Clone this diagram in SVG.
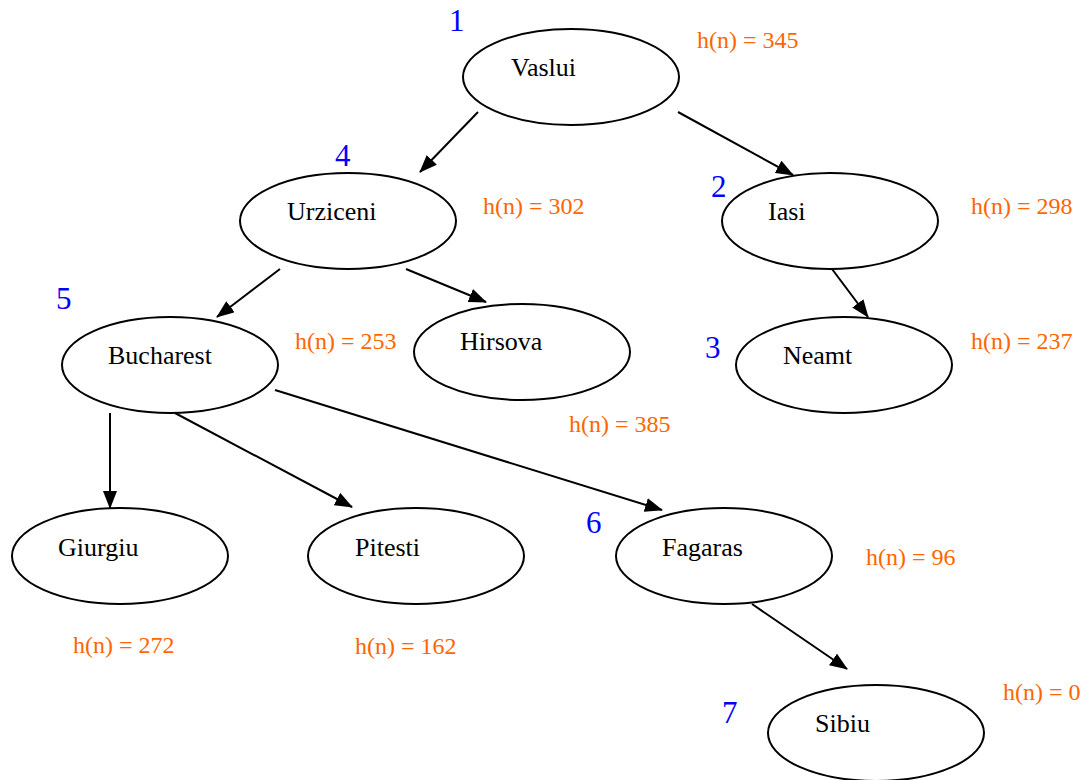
<svg xmlns="http://www.w3.org/2000/svg" width="1085" height="780" viewBox="0 0 1085 780">
<style>
.node ellipse{fill:#fff;stroke:#000;stroke-width:2}
.name{font-family:"Liberation Serif",serif;font-size:26px;fill:#000}
.h{font-family:"Liberation Serif",serif;font-size:24px;fill:#FF6600}
.n{font-family:"Liberation Serif",serif;font-size:31px;fill:#0000FF}
#edges line{stroke:#000;stroke-width:2;marker-end:url(#arr)}
</style>
<defs>
<marker id="arr" markerUnits="userSpaceOnUse" markerWidth="18" markerHeight="14" refX="17" refY="7" orient="auto">
<path d="M0,0 L18,7 L0,14 Z" fill="#000"/>
</marker>
</defs>
<rect width="1085" height="780" fill="#fff"/>
<g id="edges">
<line x1="478" y1="112" x2="420" y2="172"/>
<line x1="678" y1="112" x2="793" y2="175"/>
<line x1="280" y1="269" x2="217" y2="317"/>
<line x1="406" y1="269" x2="486" y2="302"/>
<line x1="832" y1="269" x2="868" y2="317"/>
<line x1="110" y1="413" x2="110" y2="508"/>
<line x1="175" y1="413" x2="352" y2="507"/>
<line x1="275" y1="390" x2="662" y2="510"/>
<line x1="752" y1="604" x2="847" y2="669"/>
</g>
<g id="vaslui" class="node"><ellipse cx="571" cy="77" rx="108" ry="48"/><text class="name" x="511" y="76">Vaslui</text></g>
<g id="urziceni" class="node"><ellipse cx="348" cy="221" rx="108" ry="48"/><text class="name" x="287" y="220">Urziceni</text></g>
<g id="iasi" class="node"><ellipse cx="830" cy="221" rx="108" ry="48"/><text class="name" x="768" y="220">Iasi</text></g>
<g id="bucharest" class="node"><ellipse cx="170" cy="365" rx="108" ry="48"/><text class="name" x="108" y="364">Bucharest</text></g>
<g id="hirsova" class="node"><ellipse cx="522" cy="352" rx="108" ry="48"/><text class="name" x="460" y="350">Hirsova</text></g>
<g id="neamt" class="node"><ellipse cx="844" cy="365" rx="108" ry="48"/><text class="name" x="783" y="364">Neamt</text></g>
<g id="giurgiu" class="node"><ellipse cx="120" cy="556" rx="108" ry="48"/><text class="name" x="58" y="556">Giurgiu</text></g>
<g id="pitesti" class="node"><ellipse cx="416" cy="556" rx="108" ry="48"/><text class="name" x="355" y="556">Pitesti</text></g>
<g id="fagaras" class="node"><ellipse cx="724" cy="556" rx="108" ry="48"/><text class="name" x="662" y="556">Fagaras</text></g>
<g id="sibiu" class="node"><ellipse cx="876" cy="733" rx="108" ry="48"/><text class="name" x="815" y="732">Sibiu</text></g>
<g id="labels">
<text class="n" x="449" y="31">1</text>
<text class="h" x="697" y="48">h(n) = 345</text>
<text class="n" x="335" y="166">4</text>
<text class="h" x="483" y="214">h(n) = 302</text>
<text class="n" x="711" y="197">2</text>
<text class="h" x="971" y="214">h(n) = 298</text>
<text class="n" x="56" y="309">5</text>
<text class="h" x="295" y="349">h(n) = 253</text>
<text class="n" x="705" y="358">3</text>
<text class="h" x="971" y="349">h(n) = 237</text>
<text class="h" x="569" y="432">h(n) = 385</text>
<text class="n" x="586" y="533">6</text>
<text class="h" x="866" y="565">h(n) = 96</text>
<text class="h" x="73" y="653">h(n) = 272</text>
<text class="h" x="355" y="654">h(n) = 162</text>
<text class="n" x="722" y="723">7</text>
<text class="h" x="1003" y="700">h(n) = 0</text>
</g>
</svg>
